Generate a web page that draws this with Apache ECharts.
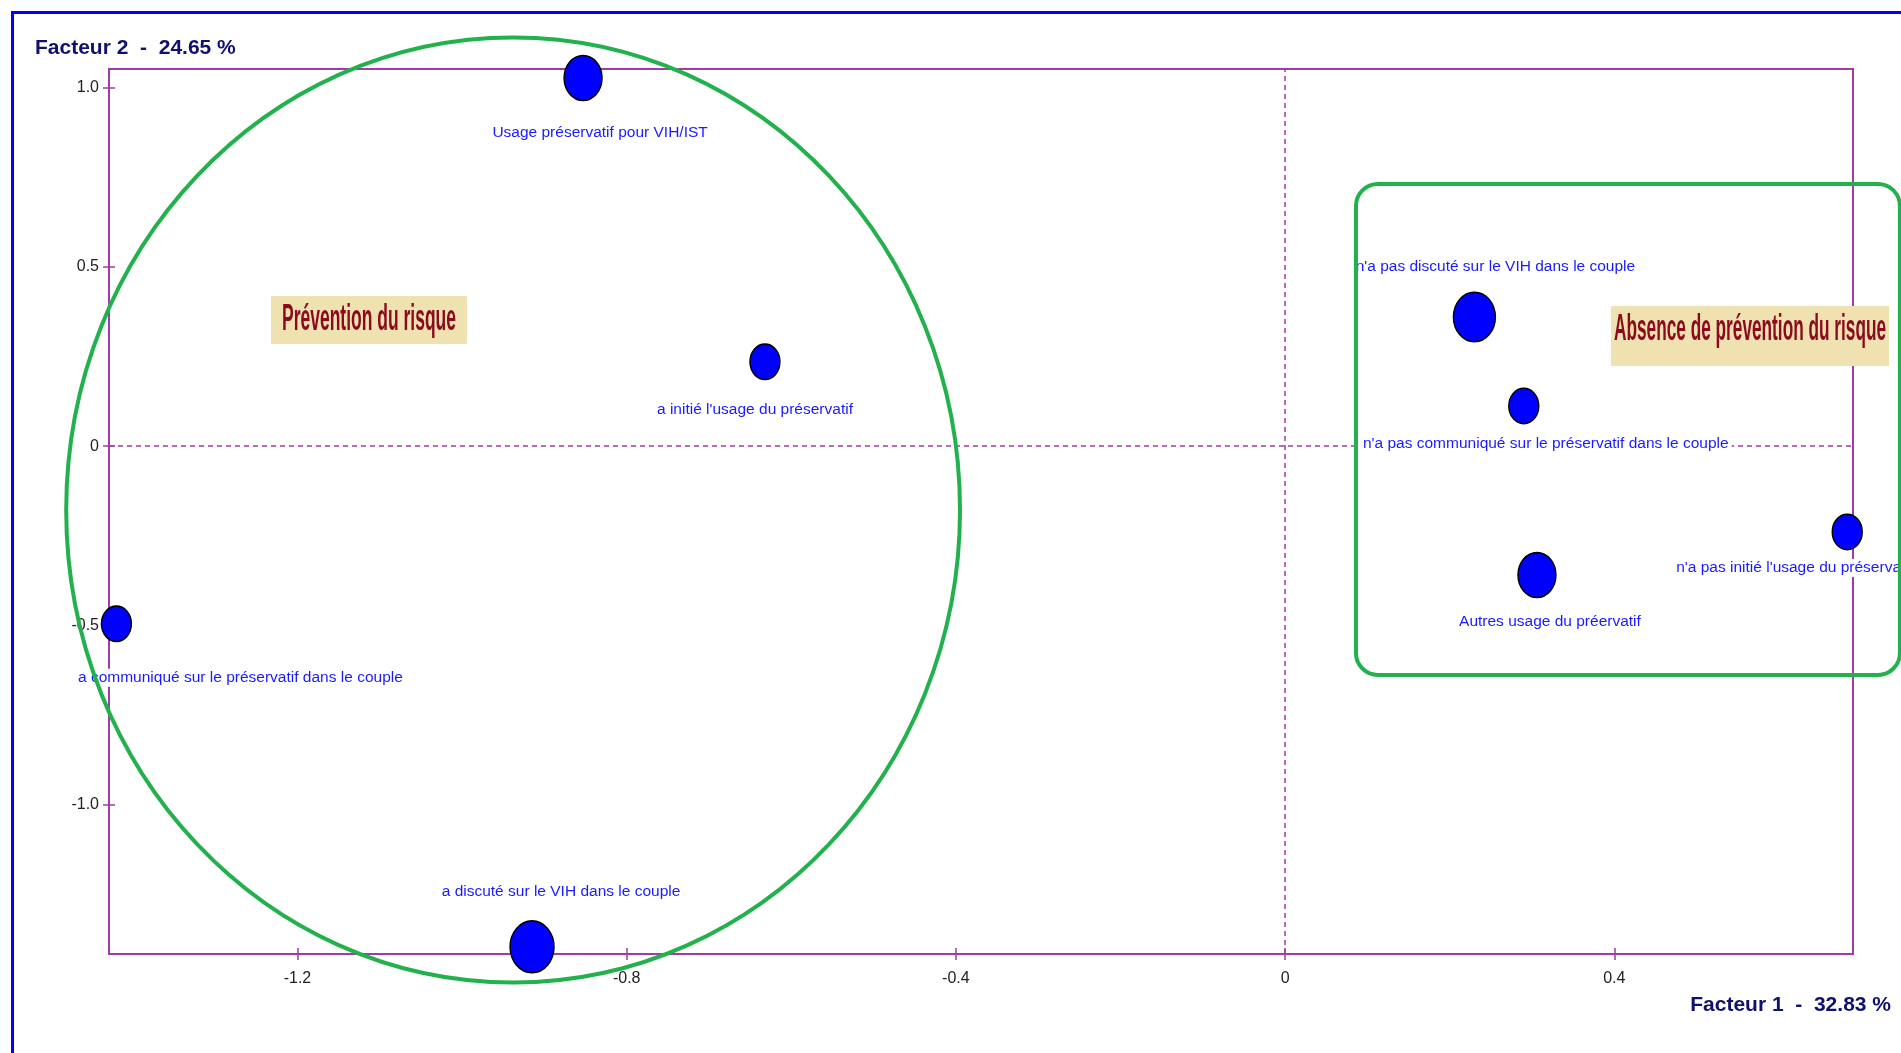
<!DOCTYPE html>
<html>
<head>
<meta charset="utf-8">
<script src="https://cdn.jsdelivr.net/npm/echarts@6/dist/echarts.min.js"></script>
<style>
html,body{margin:0;padding:0;background:#ffffff;}
#chart{width:1901px;height:1053px;}
</style>
</head>
<body>
<div id="chart"></div>
<script>
// ---------------- data ----------------
const categories = [
  "Usage préservatif pour VIH/IST",
  "a initié l'usage du préservatif",
  "a communiqué sur le préservatif dans le couple",
  "a discuté sur le VIH dans le couple",
  "n'a pas discuté sur le VIH dans le couple",
  "n'a pas communiqué sur le préservatif dans le couple",
  "n'a pas initié l'usage du préservatif",
  "Autres usage du préervatif"
];
const factor1 = [-0.853, -0.632, -1.420, -0.915, 0.230, 0.290, 0.683, 0.306];
const factor2 = [1.026, 0.235, -0.495, -1.395, 0.360, 0.112, -0.239, -0.359];
const weights = [38, 30, 30, 44, 42, 30, 30, 38];

const xTickValues = [-1.2, -0.8, -0.4, 0, 0.4];
const xTickLabels = ['-1.2', '-0.8', '-0.4', '0', '0.4'];
const yTickValues = [-1.0, -0.5, 0, 0.5, 1.0];
const yTickLabels = ['-1.0', '-0.5', '0', '0.5', '1.0'];

const xAxisTitle = 'Facteur 1  -  32.83 %';
const yAxisTitle = 'Facteur 2  -  24.65 %';
const groupNames = ['Prévention du risque', 'Absence de prévention du risque'];

// ---------------- layout / style ----------------
const X_MIN = -1.429, X_MAX = 0.690, Y_MIN = -1.415, Y_MAX = 1.051;
const PURPLE = '#9E3DA3';
const GREEN = '#22B14C';
const POINT_BLUE = '#0000FF';
const LABEL_BLUE = '#1A1AFF';

// label placement (pixel offsets from point centre)
const labelPlacement = [
  {dx: 17, dy: 55, align: 'center'},
  {dx: -10, dy: 48, align: 'center'},
  {dx: 124, dy: 54, align: 'center'},
  {dx: 29, dy: -55, align: 'center'},
  {dx: 21, dy: -50, align: 'center'},
  {dx: 22, dy: 38, align: 'center'},
  {dx: -174, dy: 36, align: 'left'},
  {dx: 13, dy: 47, align: 'center'}
];

// group outlines in data units
const ellipseShape = {cx: -0.938, cy: -0.178, rx: 0.543, ry: 1.3166};
const roundRectShape = {x1: 0.0861, y1: 0.7306, x2: 0.747, y2: -0.6375, r: 22};
const annotations = [
  {text: groupNames[0], cx: -1.1131, cy: 0.3516, w: 196, h: 48, tw: 174, dy: 0},
  {text: groupNames[1], cx: 0.5649, cy: 0.307, w: 278, h: 60, tw: 272, dy: -6}
];

// ---------------- fonts ----------------
function hasFont(name) {
  const c = document.createElement('canvas').getContext('2d');
  const s = 'abcdefghijklmnopqrstuvwxyz0123456789';
  c.font = '40px monospace';
  const a = c.measureText(s).width;
  c.font = '40px "' + name + '", monospace';
  const b = c.measureText(s).width;
  return Math.abs(a - b) > 0.5;
}
const narrow = hasFont('Liberation Sans Narrow');
const labelFamily = narrow ? '"Liberation Sans Narrow", "Liberation Sans", Arial' : '"Liberation Sans", Arial';
const labelSize = narrow ? 18.5 : 15.5;
const annFamily = narrow ? '"Liberation Sans Narrow", "Liberation Sans", Arial' : '"Liberation Sans", Arial';
const ANN_SIZE = 37;
function textWidth(font, txt) {
  const c = document.createElement('canvas').getContext('2d');
  c.font = font;
  return c.measureText(txt).width;
}
const annFont = 'bold ' + ANN_SIZE + 'px ' + annFamily;

// ---------------- build ----------------
const pointData = categories.map((name, i) => ({
  name: name,
  value: [factor1[i], factor2[i]]
}));

const ellipsePath = 'path://M50,0 A50,50 0 1,1 50,100 A50,50 0 1,1 50,0 Z';

const chart = echarts.init(document.getElementById('chart'), null, {renderer: 'canvas'});

const xCommon = {type: 'value', min: X_MIN, max: X_MAX, position: 'bottom', splitLine: {show: false}};
const yCommon = {type: 'value', min: Y_MIN, max: Y_MAX, position: 'left', splitLine: {show: false}};

const option = {
  backgroundColor: '#ffffff',
  animation: false,
  title: [
    {text: yAxisTitle, left: 35, top: 38, padding: 0,
     textStyle: {fontSize: 21, fontWeight: 'bold', color: '#10106E', fontFamily: '"Liberation Sans", Arial'}},
    {text: xAxisTitle, right: 10, top: 995, padding: 0,
     textStyle: {fontSize: 21, fontWeight: 'bold', color: '#10106E', fontFamily: '"Liberation Sans", Arial'}}
  ],
  graphic: [
    {type: 'rect', left: 10, top: 10, silent: true, z: -10,
     shape: {x: 0, y: 0, width: 2000, height: 2000},
     style: {fill: 'none', stroke: '#0000FF', lineWidth: 3}}
  ],
  grid: {
    left: 109, right: 48, top: 69, bottom: 99,
    show: true, borderColor: PURPLE, borderWidth: 2, backgroundColor: 'transparent'
  },
  xAxis: [
    Object.assign({}, xCommon, {
      axisLine: {show: true, onZero: false, lineStyle: {color: PURPLE, width: 2}},
      axisTick: {show: true, inside: false, length: 6, customValues: xTickValues, lineStyle: {color: PURPLE, width: 1.5}},
      axisLabel: {show: true, margin: 17, customValues: xTickValues, color: '#222222',
        fontFamily: '"Liberation Sans", Arial', fontSize: 16,
        formatter: v => { const k = xTickValues.findIndex(t => Math.abs(t - v) < 1e-6); return k >= 0 ? xTickLabels[k] : ''; }}
    }),
    Object.assign({}, xCommon, {
      axisLine: {show: false, onZero: false},
      axisTick: {show: true, inside: true, length: 6, customValues: xTickValues, lineStyle: {color: PURPLE, width: 1.5}},
      axisLabel: {show: false}
    })
  ],
  yAxis: [
    Object.assign({}, yCommon, {
      axisLine: {show: true, onZero: false, lineStyle: {color: PURPLE, width: 2}},
      axisTick: {show: true, inside: false, length: 6, customValues: yTickValues, lineStyle: {color: PURPLE, width: 1.5}},
      axisLabel: {show: true, margin: 10, customValues: yTickValues, color: '#222222',
        fontFamily: '"Liberation Sans", Arial', fontSize: 16,
        formatter: v => { const k = yTickValues.findIndex(t => Math.abs(t - v) < 1e-6); return k >= 0 ? yTickLabels[k] : ''; }}
    }),
    Object.assign({}, yCommon, {
      axisLine: {show: false, onZero: false},
      axisTick: {show: true, inside: true, length: 6, customValues: yTickValues, lineStyle: {color: PURPLE, width: 1.5}},
      axisLabel: {show: false}
    })
  ],
  series: [
    {
      // origin reference lines
      type: 'scatter', data: [], z: 1, silent: true,
      markLine: {
        silent: true, symbol: 'none', animation: false, z: 1,
        label: {show: false},
        lineStyle: {color: PURPLE, type: [5, 4], width: 1.5},
        data: [{xAxis: 0}, {yAxis: 0}]
      }
    },
    {
      type: 'scatter', z: 3, clip: false, silent: true,
      symbol: ellipsePath,
      symbolSize: (val, params) => [weights[params.dataIndex], weights[params.dataIndex] * 1.18],
      itemStyle: {color: POINT_BLUE, borderColor: '#000000', borderWidth: 1.5, opacity: 1},
      label: {
        show: true,
        position: 'inside',
        formatter: p => p.name,
        color: LABEL_BLUE,
        fontFamily: labelFamily,
        fontSize: labelSize,
        backgroundColor: '#ffffff',
        padding: [1, 3]
      },
      labelLayout: function (p) {
        const L = labelPlacement[p.dataIndex];
        const r = p.labelRect;
        const px = p.rect.x + p.rect.width / 2;
        const py = p.rect.y + p.rect.height / 2;
        const x = L.align === 'left' ? px + L.dx : px + L.dx - r.width / 2;
        const y = py + L.dy - r.height / 2;
        return {x: x, y: y, align: 'left', verticalAlign: 'top', hideOverlap: false, moveOverlap: null};
      },
      data: pointData
    },
    {
      // group outlines and annotation boxes
      type: 'custom', z: 6, clip: false, silent: true,
      data: [[0, 0]],
      renderItem: function (params, api) {
        const c = api.coord([ellipseShape.cx, ellipseShape.cy]);
        const s = api.size([ellipseShape.rx, ellipseShape.ry]);
        const p1 = api.coord([roundRectShape.x1, roundRectShape.y1]);
        const p2 = api.coord([roundRectShape.x2, roundRectShape.y2]);
        const children = [
          {type: 'ellipse', shape: {cx: c[0], cy: c[1], rx: s[0], ry: s[1]},
           style: {fill: 'none', stroke: GREEN, lineWidth: 4}},
          {type: 'rect', shape: {x: p1[0], y: p1[1], width: p2[0] - p1[0], height: p2[1] - p1[1], r: roundRectShape.r},
           style: {fill: 'none', stroke: GREEN, lineWidth: 4}}
        ];
        annotations.forEach(a => {
          const p = api.coord([a.cx, a.cy]);
          const mw = textWidth(annFont, a.text);
          children.push({type: 'rect', shape: {x: p[0] - a.w / 2, y: p[1] - a.h / 2, width: a.w, height: a.h},
            style: {fill: '#EFE2B0', stroke: 'none'}});
          children.push({type: 'text', x: p[0], y: p[1] + a.dy, scaleX: a.tw / mw,
            style: {text: a.text, font: annFont, fill: '#8B0A1E', align: 'center', verticalAlign: 'middle'}});
        });
        return {type: 'group', children: children};
      }
    }
  ]
};
chart.setOption(option);
</script>
</body>
</html>
